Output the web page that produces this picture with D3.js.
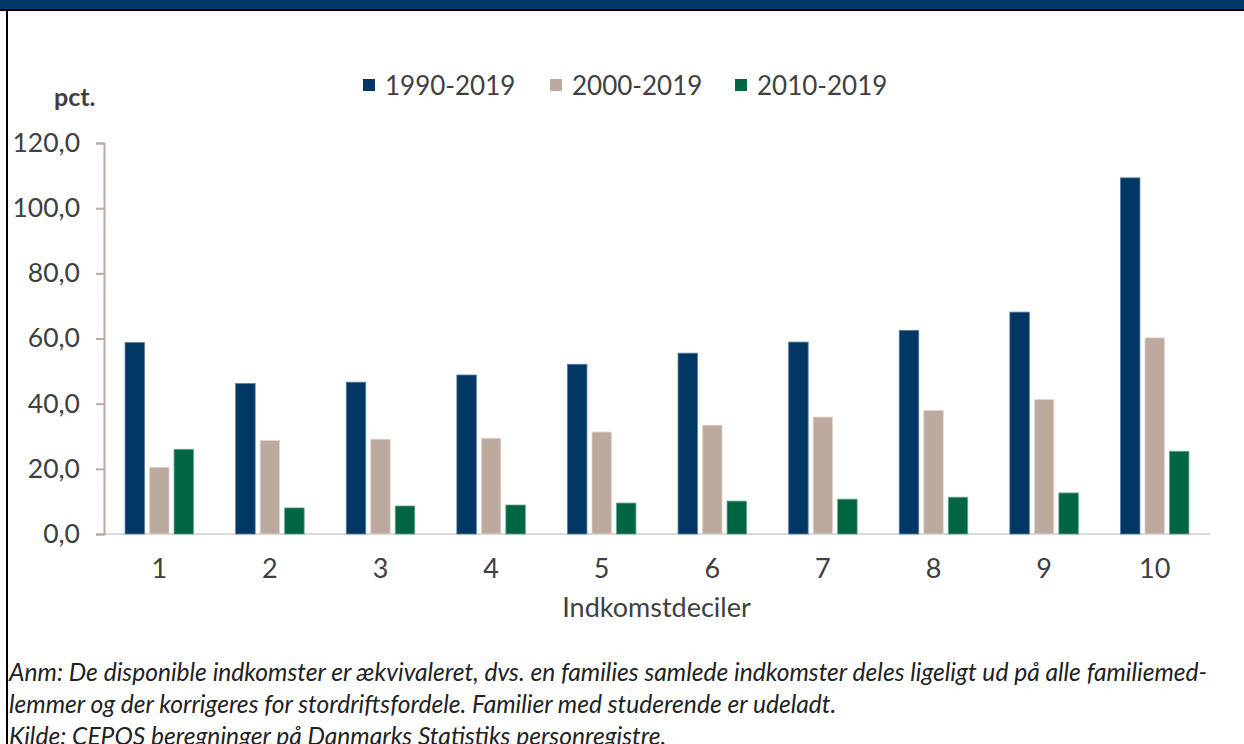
<!DOCTYPE html>
<html>
<head>
<meta charset="utf-8">
<script src="https://cdn.jsdelivr.net/npm/d3@7"></script>
<style>
  html, body { margin: 0; background: #fff; overflow: hidden; }
  svg { display: block; font-family: Lato, "Noto Sans", sans-serif; }
</style>
</head>
<body>
<div id="chart"></div>
<script>
const deciles = ['1', '2', '3', '4', '5', '6', '7', '8', '9', '10'];
const seriesNames = ['1990-2019', '2000-2019', '2010-2019'];
const v1990 = [58.8, 46.2, 46.6, 48.8, 52.1, 55.5, 58.9, 62.5, 68.1, 109.3];
const v2000 = [20.5, 28.7, 29.1, 29.4, 31.3, 33.4, 35.9, 37.9, 41.3, 60.2];
const v2010 = [26.0, 8.0, 8.6, 8.9, 9.5, 10.1, 10.7, 11.3, 12.6, 25.4];
const yTicks = [0, 20, 40, 60, 80, 100, 120];
const notes = [
  ['Anm:', ' De disponible indkomster er ækvivaleret, dvs. en families samlede indkomster deles ligeligt ud på alle familiemed-'],
  ['', 'lemmer og der korrigeres for stordriftsfordele. Familier med studerende er udeladt.'],
  ['', 'Kilde: CEPOS beregninger på Danmarks Statistiks personregistre.']
];

const colors = ['#003764', '#bcaa9f', '#006543'];
const strokes = ['#5a7fa3', '#e3d9d2', '#6aa88c'];
const values = [v1990, v2000, v2010];

const width = 1244, height = 744;
const svg = d3.select('#chart').append('svg')
  .attr('width', width).attr('height', height);

// header bar and frame
svg.append('rect').attr('x', 0).attr('y', 0).attr('width', width).attr('height', 10).attr('fill', '#003764');
svg.append('rect').attr('x', 0).attr('y', 9).attr('width', width).attr('height', 2).attr('fill', '#000');
svg.append('rect').attr('x', 6).attr('y', 10).attr('width', 2).attr('height', height - 10).attr('fill', '#000');

const plotLeft = 104, plotRight = 1210, plotTop = 143, plotBottom = 534;

const x = d3.scaleBand().domain(deciles).range([plotLeft, plotRight]).paddingInner(0).paddingOuter(0);
const y = d3.scaleLinear().domain([0, 120]).range([plotBottom, plotTop]);

const barW = 19.5, gap = 5;
const inner = d3.scaleBand().domain(seriesNames)
  .range([0, 3 * barW + 2 * gap]).paddingInner(gap / (barW + gap));

// x axis line
svg.append('line')
  .attr('x1', plotLeft).attr('x2', plotRight)
  .attr('y1', y(0)).attr('y2', y(0))
  .attr('stroke', '#d9d9d9').attr('stroke-width', 2);

// y axis
const yAxis = d3.axisLeft(y).tickValues(yTicks).tickSize(8).tickPadding(16)
  .tickFormat(d => d3.format('.1f')(d).replace('.', ','));
const gy = svg.append('g').attr('transform', `translate(${plotLeft},0)`).call(yAxis);
gy.select('.domain').attr('stroke', '#bcaa9f').attr('stroke-width', 2);
gy.selectAll('.tick line').attr('stroke', '#bcaa9f').attr('stroke-width', 2);
gy.selectAll('.tick text').attr('fill', '#404040').style('font-size', '26.5px')
  .style('font-family', 'Lato, sans-serif');

// x labels
const xAxis = d3.axisBottom(x).tickSize(0).tickPadding(25);
const gx = svg.append('g').attr('transform', `translate(0,${y(0)})`).call(xAxis);
gx.select('.domain').remove();
gx.selectAll('.tick text').attr('fill', '#404040').style('font-size', '27px')
  .style('font-family', 'Lato, sans-serif');

// bars
seriesNames.forEach((name, si) => {
  svg.append('g').selectAll('rect')
    .data(values[si])
    .enter().append('rect')
    .attr('x', (d, i) => x(deciles[i]) + x.bandwidth() / 2 - (3 * barW + 2 * gap) / 2 + inner(name))
    .attr('y', d => y(d))
    .attr('width', inner.bandwidth())
    .attr('height', d => y(0) - y(d))
    .attr('fill', colors[si])
    .attr('stroke', strokes[si])
    .attr('stroke-width', 0.8);
});

// legend
const legendX = [363, 550, 735];
seriesNames.forEach((name, si) => {
  svg.append('rect').attr('x', legendX[si]).attr('y', 79).attr('width', 12).attr('height', 12)
    .attr('fill', colors[si]);
  svg.append('text').attr('x', legendX[si] + 22).attr('y', 95)
    .attr('fill', '#404040').style('font-size', '26px').text(name);
});

// axis titles
svg.append('text').attr('x', 54).attr('y', 106)
  .attr('fill', '#404040').style('font-size', '25px').style('font-weight', 'bold').text('pct.');
svg.append('text').attr('x', 656.5).attr('y', 617).attr('text-anchor', 'middle')
  .attr('fill', '#404040').style('font-size', '27px').text('Indkomstdeciler');

// notes
notes.forEach((n, i) => {
  const t = svg.append('text').attr('x', 9).attr('y', 681 + i * 32)
    .attr('fill', '#222').style('font-size', '24.6px').style('font-style', 'italic');
  if (n[0]) t.append('tspan').text(n[0]);
  t.append('tspan').text(n[1]);
});
</script>
</body>
</html>
